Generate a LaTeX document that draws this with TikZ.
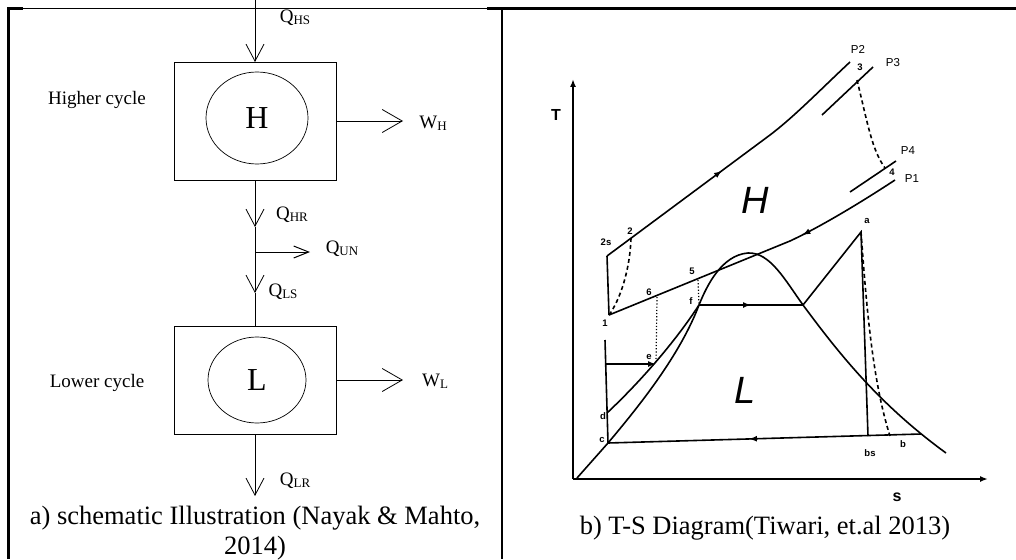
\documentclass[tikz,border=0pt]{standalone}
\usepackage{fontspec}
\setmainfont{Liberation Serif}
\setsansfont{Liberation Sans}
\usetikzlibrary{arrows.meta,decorations.markings,shapes.geometric}

\newcommand{\fsz}[1]{\fontsize{#1}{#1}\selectfont}
\newcommand{\sbs}[1]{\raisebox{-0.25ex}{\fsz{13}#1}}

\tikzset{
  frameline/.style={line width=2.4pt},
  thinframe/.style={line width=0.8pt},
  flow/.style={line width=0.8pt,-{Straight Barb[length=17pt,width=18pt]}},
  flowwide/.style={line width=0.8pt,-{Straight Barb[length=20pt,width=23pt]}},
  flowshort/.style={line width=1pt,-{Straight Barb[length=15pt,width=12pt]}},
  cyclebox/.style={draw,line width=0.8pt,minimum width=162pt,inner sep=0pt,outer sep=0pt},
  cycleell/.style={draw,ellipse,line width=0.7pt,inner sep=0pt,font=\fsz{32}},
  qlab/.style={font=\fsz{19},inner sep=0pt},
  caption/.style={font={\fontsize{26.5}{30}\selectfont},align=center,inner sep=0pt},
  curve/.style={line width=1.6pt},
  axis/.style={line width=2pt,-{Latex[length=8pt,width=6pt]}},
  statelab/.style={font=\sffamily\bfseries\fsz{9.5},inner sep=0pt},
  plab/.style={font=\sffamily\fsz{11.5},inner sep=0pt},
  region/.style={font=\sffamily\itshape\fsz{38},inner sep=0pt},
  midarrow/.style={postaction={decorate},decoration={markings,
    mark=at position #1 with {\arrow{Latex[length=8pt,width=6pt]}}}},
}

\begin{document}
\begin{tikzpicture}[x=1pt,y=-1pt]
    \useasboundingbox (0,0) rectangle (1016,559);
    % frame
    \draw[frameline] (8.5,559) -- (8.5,8.5) -- (23,8.5);
    \draw[thinframe] (23,8.5) -- (487,8.5);
    \draw[frameline] (487,8.5) -- (1016,8.5);
    \draw[frameline] (502,8.5) -- (502,559);

    % a) schematic
    \node[cyclebox, minimum height=118pt] (hbox) at (255,121) {};
    \node[cycleell, minimum width=102pt, minimum height=92pt] (hcyc) at (257,118) {H};
    \node[cyclebox, minimum height=108pt] (lbox) at (255,380) {};
    \node[cycleell, minimum width=98pt, minimum height=86pt] (lcyc) at (257,380) {L};
    \node[qlab] (hname) at (97,100) {Higher cycle};
    \node[qlab] (lname) at (97,383) {Lower cycle};

    \coordinate (hs) at (255,0);
    \coordinate (wh) at (403,121);
    \coordinate (hr) at (255,227);
    \coordinate (un) at (255,252);
    \coordinate (une) at (310,252);
    \coordinate (ls) at (255,293);
    \coordinate (wl) at (403,380);
    \coordinate (lr) at (255,496);
    \draw[flow] (hs) -- (hbox.north);
    \draw[flowwide] (hbox.east) -- (wh);
    \draw[flow] (hbox.south) -- (hr);
    \draw[flow] (hr) -- (ls);
    \draw[line width=0.8pt] (ls) -- (lbox.north);
    \draw[flowshort] (un) -- (une);
    \draw[flowwide] (lbox.east) -- (wl);
    \draw[flow] (lbox.south) -- (lr);

    \node[qlab] (qhs) at (295,18) {Q\sbs{HS}};
    \node[qlab] (whl) at (433,123) {W\sbs{H}};
    \node[qlab] (qhr) at (292,215) {Q\sbs{HR}};
    \node[qlab] (qun) at (342,249) {Q\sbs{UN}};
    \node[qlab] (qls) at (283,292) {Q\sbs{LS}};
    \node[qlab] (wll) at (435,381) {W\sbs{L}};
    \node[qlab] (qlr) at (295,481) {Q\sbs{LR}};
    \node[caption] (capa) at (255,533) {a) schematic Illustration (Nayak \& Mahto,\\2014)};

    % b) T-s diagram
    \coordinate (O) at (573,479);
    \coordinate (Ttop) at (573,79);
    \coordinate (send) at (988,479);
    \draw[axis] (O) -- (Ttop);
    \draw[axis] (O) -- (send);
    \node[font=\sffamily\bfseries\fsz{16}] (tlab) at (556,115) {T};
    \node[font=\sffamily\bfseries\fsz{16}] (slab) at (897,497) {s};

    \coordinate (p2s) at (607,256);
    \coordinate (p2) at (631,238);
    \coordinate (p1) at (609,315);
    \coordinate (p3) at (857,80);
    \coordinate (p4) at (885,168);
    \coordinate (p6) at (657,297);
    \coordinate (p5) at (698,280);
    \coordinate (pe) at (656,364);
    \coordinate (pf) at (699,305);
    \coordinate (pd) at (607,413);
    \coordinate (pc) at (608,443);
    \coordinate (pg) at (803,305);
    \coordinate (pa) at (861,232);
    \coordinate (pbs) at (868,436);
    \coordinate (pb) at (890,436);
    \coordinate (pk) at (921,434);

    % higher cycle
    \draw[curve, midarrow=0.46] (p2s) -- (770,135) .. controls (795,116) and (820,90) .. (850,62);
    \draw[curve] (822,115) -- (873,67);
    \draw[curve, dash pattern=on 4pt off 3pt] (p3) .. controls (868,125) and (872,150) .. (p4);
    \draw[curve] (850,192) -- (896,161);
    \draw[curve, midarrow=0.34] (895,180) .. controls (860,203) and (820,227) .. (790,241) -- (p1);
    \draw[curve] (p2s) -- (p1);
    \draw[curve, dash pattern=on 4pt off 3pt] (p2) .. controls (630,270) and (620,300) .. (p1);
    \draw[line width=1.2pt, dotted] (p6) -- (pe);
    \draw[line width=1.2pt, dotted] (p5) -- (pf);

    % saturation dome and lower cycle
    \draw[curve] (577,478) -- (pc) .. controls (640,405) and (680,355) .. (pf)
        .. controls (707,285) and (722,255) .. (748,253)
        .. controls (770,252) and (785,280) .. (pg)
        .. controls (840,355) and (880,405) .. (946,453);
    \draw[curve] (605,340) -- (pc);
    \draw[curve, -{Latex[length=8pt,width=6pt]}] (606,364) -- (pe);
    \draw[curve] (pd) .. controls (640,382) and (675,342) .. (pf);
    \draw[curve, midarrow=0.5] (pf) -- (pg);
    \draw[curve] (pg) -- (pa) -- (pbs);
    \draw[curve, dash pattern=on 4pt off 3pt] (pa) .. controls (866,300) and (872,380) .. (pb);
    \draw[curve, midarrow=0.55] (pk) -- (pc);

    \node[region] (hreg) at (755,200) {H};
    \node[region] (lreg) at (745,390) {L};

    \foreach \lab/\x/\y in {2s/606/242, 2/630/231, 1/605/323, 6/649/292, 5/692/271,
        f/691/301, e/649/357, d/603/416, c/602/440, a/867/221, bs/870/453, b/903/444,
        3/860/67, 4/892/172}
        \node[statelab] (s-\lab) at (\x,\y) {\lab};
    \foreach \lab/\x/\y in {P1/912/179, P2/858/49, P3/893/63, P4/908/151}
        \node[plab] (\lab) at (\x,\y) {\lab};
    \node[caption] (capb) at (765,528) {b) T-S Diagram(Tiwari, et.al 2013)};
\end{tikzpicture}
\end{document}
